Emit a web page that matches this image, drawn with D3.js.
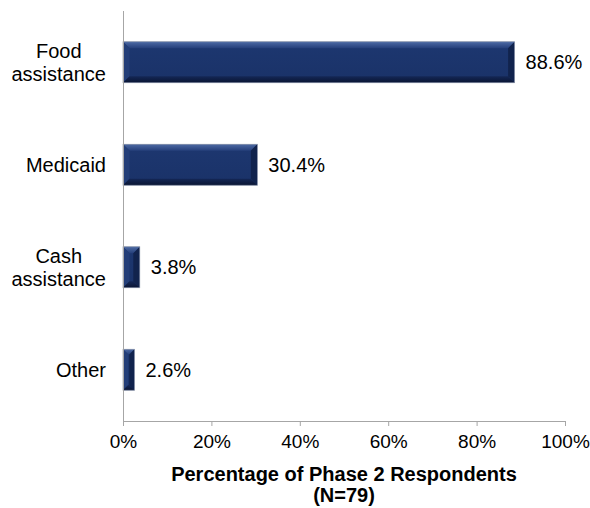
<!DOCTYPE html>
<html>
<head>
<meta charset="utf-8">
<script src="https://cdn.jsdelivr.net/npm/d3@7"></script>
<style>
  html, body { margin: 0; padding: 0; background: #fff; }
  svg { display: block; font-family: Arial, "Liberation Sans", sans-serif; }
</style>
</head>
<body>
<svg id="chart" width="590" height="508"></svg>
<script>
// Benefit programs used by respondents
const categories = [["Food", "assistance"], ["Medicaid"], ["Cash", "assistance"], ["Other"]];
const percents = [88.6, 30.4, 3.8, 2.6];
const tickValues = [0, 20, 40, 60, 80, 100];
const axisTitle = ["Percentage of Phase 2 Respondents", "(N=79)"];

const svg = d3.select("#chart");
const plotLeft = 123, plotRight = 565, plotTop = 11, plotBottom = 421;

const x = d3.scaleLinear().domain([0, 100]).range([plotLeft, plotRight]);
const y = d3.scaleBand()
  .domain(d3.range(categories.length))
  .range([plotTop, plotBottom])
  .paddingInner(0.6)
  .paddingOuter(0.3);

// gradients for the bevelled bars
const defs = svg.append("defs");
function vGrad(id, c0, c1) {
  const g = defs.append("linearGradient").attr("id", id)
    .attr("x1", 0).attr("y1", 0).attr("x2", 0).attr("y2", 1);
  g.append("stop").attr("offset", "0%").attr("stop-color", c0);
  g.append("stop").attr("offset", "100%").attr("stop-color", c1);
}
vGrad("barFill", "#1d3770", "#1a3268");
vGrad("bevelTop", "#4d6aa4", "#253f7a");
vGrad("bevelBottom", "#142756", "#0a1533");

const axisColor = "#a6a6a6";

// bars
const bars = svg.append("g").selectAll("g.bar")
  .data(percents)
  .join("g")
  .attr("class", "bar");

bars.each(function(v, i) {
  const g = d3.select(this);
  const x0 = x(0), x1 = x(v), y0 = y(i), h = y.bandwidth(), y1 = y0 + h;
  const w = x1 - x0;
  const b = Math.min(6.5, w / 2.2); // bevel depth
  g.append("rect")
    .attr("x", x0).attr("y", y0).attr("width", w).attr("height", h)
    .attr("fill", "url(#barFill)");
  // top bevel
  g.append("polygon")
    .attr("points", [[x0, y0], [x1, y0], [x1 - b, y0 + b], [x0 + b, y0 + b]].join(" "))
    .attr("fill", "url(#bevelTop)");
  // left bevel
  g.append("polygon")
    .attr("points", [[x0, y0], [x0 + b, y0 + b], [x0 + b, y1 - b], [x0, y1]].join(" "))
    .attr("fill", "#233e78");
  // right bevel
  g.append("polygon")
    .attr("points", [[x1, y0], [x1, y1], [x1 - b, y1 - b], [x1 - b, y0 + b]].join(" "))
    .attr("fill", "#11234d");
  // bottom bevel
  g.append("polygon")
    .attr("points", [[x0, y1], [x0 + b, y1 - b], [x1 - b, y1 - b], [x1, y1]].join(" "))
    .attr("fill", "url(#bevelBottom)");
  g.append("rect")
    .attr("x", x0).attr("y", y0).attr("width", w).attr("height", h)
    .attr("fill", "none").attr("stroke", "#9aa2b4").attr("stroke-width", 0.7);
});

// value labels
svg.append("g").selectAll("text")
  .data(percents)
  .join("text")
  .attr("x", d => x(d) + 11)
  .attr("y", (d, i) => y(i) + y.bandwidth() / 2)
  .attr("dy", "0.35em")
  .attr("font-size", 20)
  .attr("fill", "#000")
  .text(d => d.toFixed(1) + "%");

// x axis
const xAxis = d3.axisBottom(x)
  .tickValues(tickValues)
  .tickSize(5)
  .tickPadding(9)
  .tickFormat(d => d + "%");
const ax = svg.append("g").attr("transform", `translate(0,${plotBottom})`).call(xAxis);
ax.select(".domain").attr("stroke", axisColor).attr("d", `M${plotLeft},0.5H${plotRight}`);
ax.selectAll(".tick line").attr("stroke", axisColor);
ax.selectAll(".tick text").attr("font-size", 19).attr("fill", "#000")
  .attr("font-family", "Arial, 'Liberation Sans', sans-serif");

// y axis line
svg.append("line")
  .attr("x1", plotLeft + 0.5).attr("x2", plotLeft + 0.5)
  .attr("y1", plotTop).attr("y2", plotBottom)
  .attr("stroke", axisColor);

// category labels, each block right-aligned against the axis with lines centred
const labelRight = 106;
const catG = svg.append("g").attr("font-size", 20).attr("fill", "#000");
categories.forEach((lines, i) => {
  const t = catG.append("text").attr("text-anchor", "middle");
  const spans = lines.map(s => t.append("tspan").text(s));
  const maxW = d3.max(spans, s => s.node().getComputedTextLength());
  const cx = labelRight - maxW / 2;
  const cy = y(i) + y.bandwidth() / 2;
  const lh = 23;
  spans.forEach((s, k) => {
    s.attr("x", cx).attr("y", cy + (k - (lines.length - 1) / 2) * lh).attr("dy", "0.35em");
  });
});

// axis title
const title = svg.append("text")
  .attr("text-anchor", "middle")
  .attr("font-size", 20)
  .attr("font-weight", "bold")
  .attr("fill", "#000");
axisTitle.forEach((s, k) => {
  title.append("tspan")
    .attr("x", (plotLeft + plotRight) / 2)
    .attr("y", 474 + k * 21)
    .attr("dy", "0.35em")
    .text(s);
});
</script>
</body>
</html>
